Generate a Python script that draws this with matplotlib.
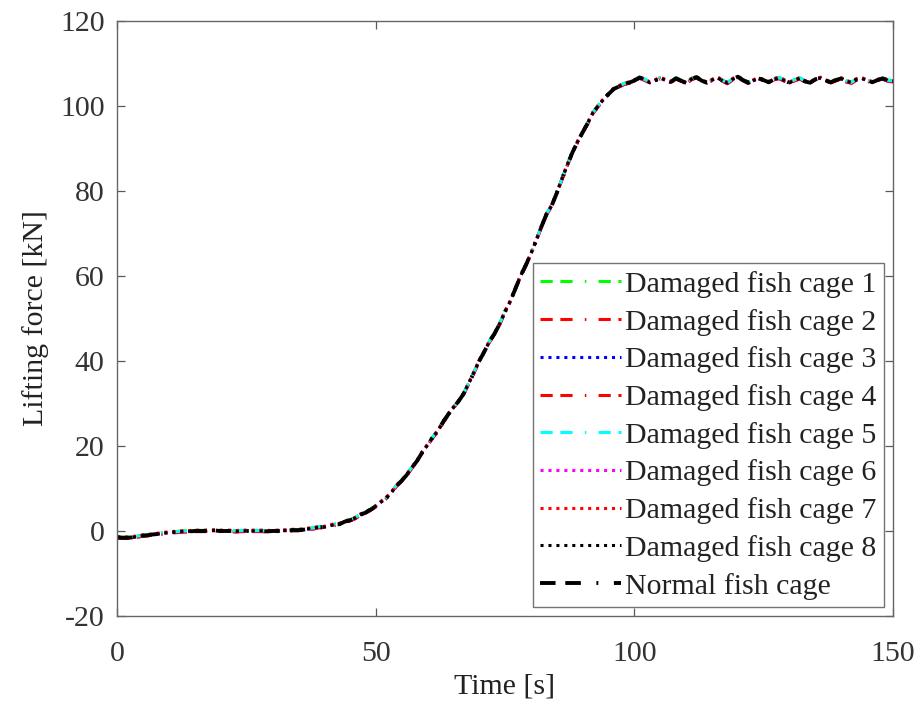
import matplotlib.pyplot as plt
import numpy as np

plt.rcParams['font.family'] = ['Liberation Serif', 'DejaVu Serif']
plt.rcParams['axes.unicode_minus'] = False

# lifting force of the normal cage, sampled every second (t = 0..150 s)
time_s = np.arange(0, 151, 1)
force_normal = [
    -1.5, -1.6, -1.6, -1.5, -1.3, -1.1, -1.0, -0.8, -0.7, -0.5,
    -0.4, -0.3, -0.2, -0.1, -0.1, 0.0,
    0.0, 0.0, 0.1, 0.1, 0.0, 0.0, 0.0, -0.1, 0.0, 0.0,
    0.0, 0.0, 0.0, -0.1, 0.0, 0.0, 0.1, 0.1, 0.2, 0.2,
    0.3, 0.5, 0.6, 0.9, 0.9, 1.2, 1.5, 1.6, 2.2, 2.5,
    3.0, 3.8, 4.3, 5.0, 5.8,
    6.8, 7.7, 9.0, 10.6, 11.8, 13.2, 14.9, 16.5, 18.5, 20.2,
    22.0, 23.5, 25.6, 27.4, 29.0, 30.5, 32.3, 34.8, 37.3, 40.0,
    42.2, 44.6, 46.5, 48.8, 51.6, 54.0, 57.0, 60.0, 62.5, 65.2,
    68.3, 71.5, 74.5, 76.5, 79.5, 82.8, 86.0, 89.0, 91.5, 93.8,
    96.0, 98.4, 100.0, 101.5, 102.8, 104.0, 104.6, 105.2, 105.5, 106.0,
    106.7, 106.2, 105.5, 106.0, 106.6, 106.1, 105.6, 106.5, 106.0, 105.4,
    106.3, 106.8, 106.0, 105.5, 106.1, 106.7, 106.0, 105.4, 106.3, 106.9,
    106.1, 105.5, 106.0, 106.5, 106.1, 105.6, 106.3, 106.6, 106.0, 105.5,
    106.1, 106.5, 105.8, 105.5, 106.3, 106.6, 106.0, 105.6, 106.1, 106.5,
    105.8, 105.5, 106.3, 106.5, 106.0, 105.6, 106.1, 106.5, 106.0, 105.8,
]

# damaged cages differ from the normal one by a small shift only
damage_labels = ['Damaged fish cage %d' % i for i in range(1, 9)]
damage_shift = [0.15, -0.10, 0.05, -0.15, 0.10, -0.05, 0.20, 0.00]
damage_colors = ['#00ff00', '#ff0000', '#0000ff', '#ff0000',
                 '#00ffff', '#ff00ff', '#ff0000', '#000000']
damage_styles = ['dashdot', 'dashdot', 'dotted', 'dashdot',
                 'dashdot', 'dotted', 'dotted', 'dotted']

fig = plt.figure(figsize=(9.22, 7.15), dpi=100)
ax = fig.add_axes([0.127, 0.1385, 0.8415, 0.832])

dash_dot = (4, 2.5, 4, 4, 0.5, 4)
for lab, sh, col, st in zip(damage_labels, damage_shift, damage_colors, damage_styles):
    y = np.array(force_normal) + sh
    if st == 'dotted':
        ax.plot(time_s, y, color=col, lw=2.2, linestyle=(0, (1, 1.6)), label=lab)
    else:
        ax.plot(time_s, y, color=col, lw=2.2, linestyle=(0, dash_dot), label=lab)

ax.plot(time_s, force_normal, color='black', lw=2.8, linestyle=(0, dash_dot),
        label='Normal fish cage')

ax.set_xlim(0, 150)
ax.set_ylim(-20, 120)
ax.set_xticks([0, 50, 100, 150])
ax.set_yticks(np.arange(-20, 121, 20))
ax.tick_params(direction='in', length=6, width=0.9, top=True, right=True,
               labelsize=21.5, colors='0.35', labelcolor='#333333')
ax.tick_params(axis='x', pad=18)
ax.tick_params(axis='y', pad=9)
for sp in ax.spines.values():
    sp.set_color('0.4')
    sp.set_linewidth(1.0)

ax.set_xlabel('Time [s]', fontsize=21.5, color='#222222', labelpad=5)
ax.set_ylabel('Lifting force [kN]', fontsize=21.5, color='#222222', labelpad=8)

leg = ax.legend(loc='lower right', fontsize=21.5, handlelength=2.7,
                handletextpad=0.15, labelspacing=0.36, borderpad=0.25,
                borderaxespad=0.3, fancybox=False, framealpha=1)
leg.get_frame().set_edgecolor('0.45')
leg.get_frame().set_linewidth(1.0)
for t in leg.get_texts():
    t.set_color('#222222')

fig.savefig('out.png', dpi=100)
